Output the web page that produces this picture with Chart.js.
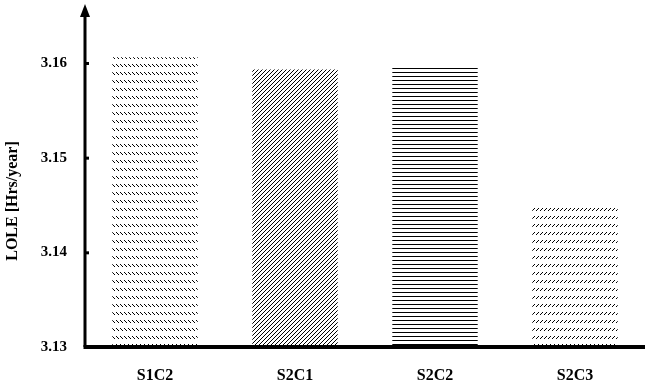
<!DOCTYPE html>
<html>
<head>
<meta charset="utf-8">
<script src="https://cdn.jsdelivr.net/npm/chart.js@4"></script>
<style>
  html, body { margin: 0; padding: 0; background: #fff; }
  #wrap { width: 647px; height: 388px; }
</style>
</head>
<body>
<div id="wrap"><canvas id="chart"></canvas></div>
<script>
// chart data
const categories = ['S1C2', 'S2C1', 'S2C2', 'S2C3'];
const loleValues = [3.1606, 3.1593, 3.1595, 3.1450];
const yTicks = [3.13, 3.14, 3.15, 3.16];
const yTitle = 'LOLE [Hrs/year]';

// little hatch tiles, one per bar
function makePattern(w, h, pixels) {
  const c = document.createElement('canvas');
  c.width = w; c.height = h;
  const g = c.getContext('2d');
  g.fillStyle = '#000';
  pixels.forEach(p => g.fillRect(p[0], p[1], p[2] || 1, p[3] || 1));
  return g.createPattern(c, 'repeat');
}

const ctx = document.getElementById('chart').getContext('2d');
const patterns = [
  makePattern(4, 8, [[0, 0], [1, 1], [2, 2]]),          // short back slashes
  makePattern(4, 4, [[3, 0], [2, 1], [1, 2], [0, 3]]),  // dense diagonal
  makePattern(1, 4, [[0, 0]]),                          // horizontal lines
  makePattern(4, 8, [[2, 0], [1, 1], [0, 2]])           // short slashes
];

// axis arrow, small tick marks and the y title
const axisDecor = {
  id: 'axisDecor',
  afterDraw(chart) {
    const g = chart.ctx;
    const area = chart.chartArea;
    const y = chart.scales.y;
    g.save();
    g.fillStyle = '#000';
    g.strokeStyle = '#000';
    // y axis line up to arrow
    g.lineWidth = 3;
    g.beginPath();
    g.moveTo(area.left, area.bottom);
    g.lineTo(area.left, 14);
    g.stroke();
    // arrow head
    g.beginPath();
    g.moveTo(area.left, 4);
    g.lineTo(area.left - 5, 17);
    g.lineTo(area.left + 5, 17);
    g.closePath();
    g.fill();
    // ticks
    yTicks.forEach(v => {
      const py = y.getPixelForValue(v);
      g.fillRect(area.left, py - 1, 4, 3);
    });
    // x axis
    g.lineWidth = 4;
    g.beginPath();
    g.moveTo(area.left - 1.5, area.bottom);
    g.lineTo(area.right, area.bottom);
    g.stroke();
    // y title
    g.translate(13, 201);
    g.rotate(-Math.PI / 2);
    g.font = 'bold 16px "Liberation Serif"';
    g.textAlign = 'center';
    g.textBaseline = 'middle';
    g.fillText(yTitle, 0, 0);
    g.restore();
  }
};

new Chart(ctx, {
  type: 'bar',
  data: {
    labels: categories,
    datasets: [{
      data: loleValues,
      backgroundColor: patterns,
      borderWidth: 0,
      categoryPercentage: 1,
      barPercentage: 0.61
    }]
  },
  options: {
    responsive: true,
    maintainAspectRatio: false,
    animation: false,
    layout: { padding: { top: 10, right: 2, left: 0, bottom: 0 } },
    plugins: { legend: { display: false }, tooltip: { enabled: false } },
    scales: {
      x: {
        afterFit: scale => { scale.height = 41; },
        grid: { display: false, drawTicks: false },
        border: { display: false },
        ticks: {
          color: '#000',
          padding: 19,
          font: { family: 'Liberation Serif', size: 16, weight: 'bold' }
        }
      },
      y: {
        min: 3.13,
        max: 3.1638,
        afterFit: scale => { scale.width = 85; },
        afterBuildTicks: scale => { scale.ticks = yTicks.map(v => ({ value: v })); },
        grid: { display: false, drawTicks: false },
        border: { display: false },
        ticks: {
          color: '#000',
          padding: 18,
          font: { family: 'Liberation Serif', size: 15, weight: 'bold' },
          callback: v => v.toFixed(2)
        }
      }
    }
  },
  plugins: [axisDecor]
});
</script>
</body>
</html>
